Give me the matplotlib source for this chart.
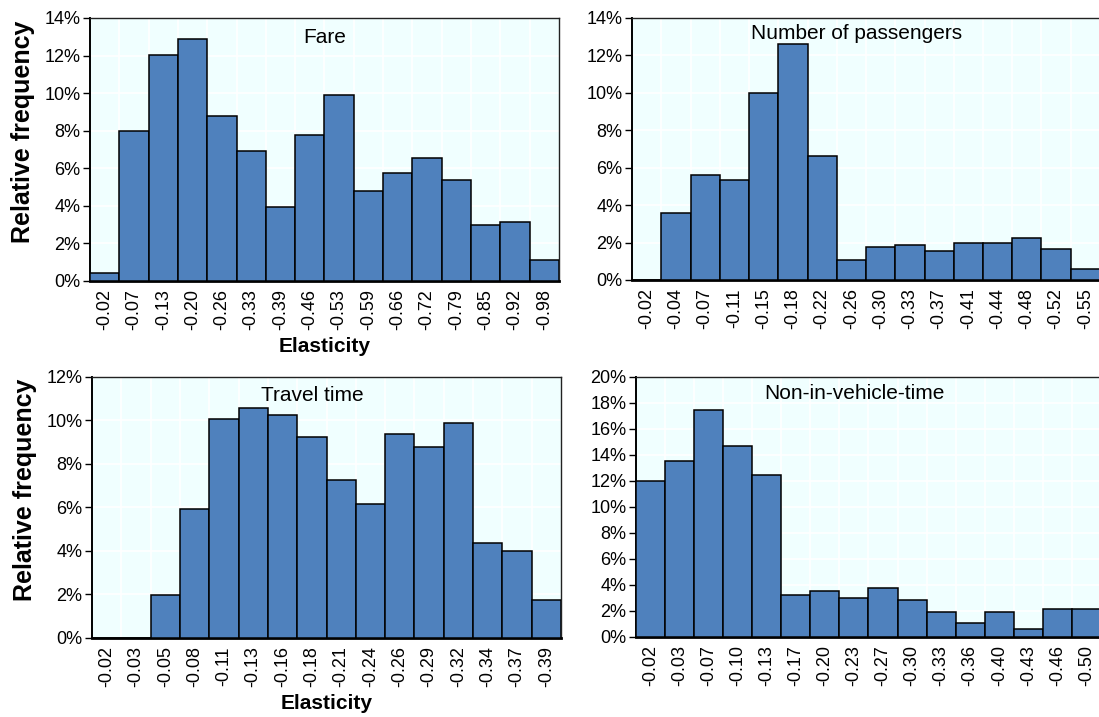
import matplotlib
matplotlib.use("Agg")
import matplotlib.pyplot as plt
from matplotlib.ticker import FuncFormatter, MultipleLocator

plt.rcParams['font.family'] = ['Liberation Sans', 'DejaVu Sans']

# Elasticity bins (bin labels) and relative frequencies (%) per attribute
fare_bins = ["-0.02", "-0.07", "-0.13", "-0.20", "-0.26", "-0.33", "-0.39", "-0.46",
             "-0.53", "-0.59", "-0.66", "-0.72", "-0.79", "-0.85", "-0.92", "-0.98"]
fare_freq = [0.4, 8.0, 12.03, 12.88, 8.8, 6.93, 3.94, 7.75,
             9.88, 4.78, 5.74, 6.56, 5.37, 3.0, 3.13, 1.1]

pass_bins = ["-0.02", "-0.04", "-0.07", "-0.11", "-0.15", "-0.18", "-0.22", "-0.26",
             "-0.30", "-0.33", "-0.37", "-0.41", "-0.44", "-0.48", "-0.52", "-0.55"]
pass_freq = [0.0, 3.57, 5.6, 5.35, 9.99, 12.63, 6.65, 1.07,
             1.77, 1.89, 1.55, 2.0, 2.0, 2.25, 1.68, 0.57]

tt_bins = ["-0.02", "-0.03", "-0.05", "-0.08", "-0.11", "-0.13", "-0.16", "-0.18",
           "-0.21", "-0.24", "-0.26", "-0.29", "-0.32", "-0.34", "-0.37", "-0.39"]
tt_freq = [0.0, 0.0, 1.99, 5.93, 10.07, 10.56, 10.23, 9.26,
           7.25, 6.16, 9.39, 8.79, 9.87, 4.37, 4.02, 1.76]

nivt_bins = ["-0.02", "-0.03", "-0.07", "-0.10", "-0.13", "-0.17", "-0.20", "-0.23",
             "-0.27", "-0.30", "-0.33", "-0.36", "-0.40", "-0.43", "-0.46", "-0.50"]
nivt_freq = [12.0, 13.56, 17.46, 14.72, 12.49, 3.21, 3.56, 2.97,
             3.79, 2.87, 1.9, 1.08, 1.9, 0.62, 2.15, 2.15]

BAR_COLOR = "#4F81BD"
BG_COLOR = "#F0FFFF"

fig = plt.figure(figsize=(10.99, 7.17), dpi=100)

panels = [
    # rect, title, bins, freq, ymax, title position (axes fraction), show axis labels
    ([0.0819, 0.6081, 0.4267, 0.3668], "Fare", fare_bins, fare_freq, 14, (0.50, 0.925), True),
    ([0.5751, 0.6095, 0.4258, 0.3654], "Number of passengers", pass_bins, pass_freq, 14, (0.48, 0.94), False),
    ([0.0837, 0.1102, 0.4268, 0.3640], "Travel time", tt_bins, tt_freq, 12, (0.47, 0.93), True),
    ([0.5787, 0.1116, 0.4231, 0.3626], "Non-in-vehicle-time", nivt_bins, nivt_freq, 20, (0.47, 0.935), False),
]

for rect, title, bins, freq, ymax, tpos, labels in panels:
    ax = fig.add_axes(rect)
    ax.set_facecolor(BG_COLOR)
    x = list(range(len(bins)))
    ax.bar(x, [f / 100 for f in freq], width=1.0, color=BAR_COLOR,
           edgecolor="black", linewidth=1.1, zorder=3)
    ax.set_xlim(-0.5, len(bins) - 0.5)
    ax.set_ylim(0, ymax / 100)

    ax.set_xticks(x)
    ax.set_xticklabels(bins, rotation=90, fontsize=13)
    ax.set_xticks([i + 0.5 for i in x[:-1]], minor=True)
    ax.tick_params(axis="x", which="both", length=0, pad=6)

    ax.yaxis.set_major_locator(MultipleLocator(0.02))
    ax.yaxis.set_major_formatter(FuncFormatter(lambda v, p: f"{v * 100:.0f}%"))
    ax.tick_params(axis="y", which="major", length=5, width=1, direction="out",
                   labelsize=13, pad=2)

    ax.grid(True, axis="x", which="minor", color="white", linewidth=1.2, zorder=0)
    ax.grid(True, axis="y", which="major", color="white", linewidth=1.2, zorder=0)
    ax.set_axisbelow(True)

    for side in ("top", "right"):
        ax.spines[side].set_linewidth(1.0)
        ax.spines[side].set_color("#222222")
    ax.spines["left"].set_linewidth(1.4)
    ax.spines["bottom"].set_linewidth(2.0)

    ax.text(tpos[0], tpos[1], title, transform=ax.transAxes, ha="center", va="center",
            fontsize=15, zorder=5)

    if labels:
        ax.set_ylabel("Relative frequency", fontsize=18, fontweight="bold")
        ax.yaxis.set_label_coords(-0.118, 0.567)
        ax.set_xlabel("Elasticity", fontsize=15, fontweight="bold", labelpad=5)

fig.savefig("out.png", dpi=100)
